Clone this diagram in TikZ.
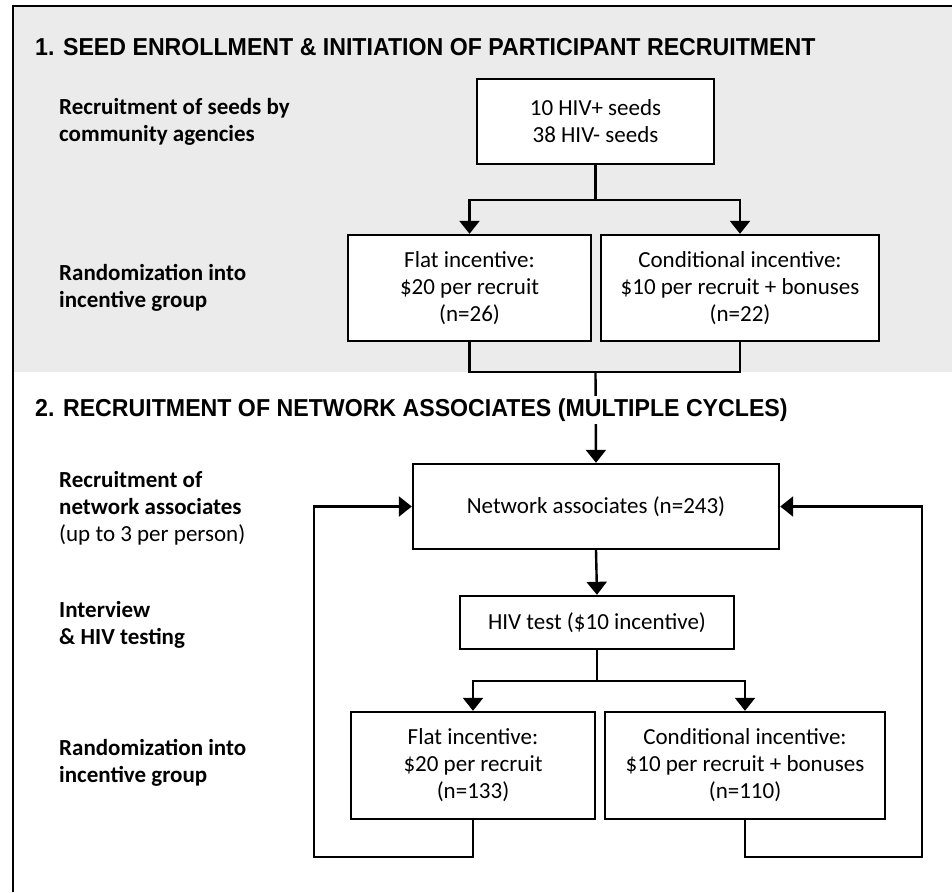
\documentclass[tikz,border=0pt]{standalone}
\usepackage{xcolor}
\usepackage{fontspec}
\setmainfont{Carlito}
\newfontfamily\headfont[FakeStretch=0.945]{Liberation Sans}
\usetikzlibrary{arrows.meta}
\definecolor{panelgray}{HTML}{EBEBEB}

\begin{document}
\begin{tikzpicture}[x=1pt, y=-1pt,
    box/.style={draw, line width=2.4pt, fill=white, align=center, inner sep=0pt,
        font=\fontsize{23}{27}\selectfont},
    rowlabel/.style={anchor=west, align=left, inner sep=0pt,
        font=\fontsize{23}{27}\selectfont},
    heading/.style={anchor=west, inner xsep=0pt, inner ysep=3pt,
        font=\headfont\bfseries\fontsize{24.5}{28}\selectfont},
    link/.style={line width=2.4pt},
    flow/.style={line width=2.4pt, -{Triangle[width=20pt,length=13pt]}}]
    \useasboundingbox (0, 0) rectangle (952, 892);

    % panels
    \fill[panelgray](14, 7) rectangle (952, 372);
    \draw[line width=2.4pt](13, 892) -- (13, 6) -- (952, 6);

    % part 1
    \node[heading] (titleone) at (35, 47) {1. SEED ENROLLMENT \& INITIATION OF PARTICIPANT RECRUITMENT};

    \node[rowlabel, font=\bfseries\fontsize{23}{27}\selectfont] (seedlabel) at (59, 121.5) {Recruitment of seeds by\\community agencies};
    \node[rowlabel, font=\bfseries\fontsize{23}{27}\selectfont] (randlabelone) at (59, 288) {Randomization into\\incentive group};

    \node[box, minimum width=237pt, minimum height=85pt] (seeds) at (595.5, 121.5) {10 HIV+ seeds\\38 HIV- seeds};
    \node[box, minimum width=243pt, minimum height=106pt] (flatone) at (469.5, 288) {Flat incentive:\\\$20 per recruit\\(n=26)};
    \node[box, minimum width=278pt, minimum height=106pt] (condone) at (740, 288) {Conditional incentive:\\\$10 per recruit + bonuses\\(n=22)};

    \coordinate (splitone) at (595.5, 200);
    \coordinate (mergeone) at (595.5, 372);

    \draw[link] (seeds.south) -- (splitone);
    \draw[flow] (splitone) -| (flatone.north);
    \draw[flow] (splitone) -| (condone.north);
    \draw[link] (flatone.south) |- (mergeone) -| (condone.south);

    % part 2
    \node[box, minimum width=366pt, minimum height=85pt] (assoc) at (596, 506.5) {Network associates (n=243)};
    \node[box, minimum width=274pt, minimum height=53pt] (hivtest) at (597, 622.5) {HIV test (\$10 incentive)};
    \node[box, minimum width=244pt, minimum height=107pt] (flattwo) at (473, 765.5) {Flat incentive:\\\$20 per recruit\\(n=133)};
    \node[box, minimum width=280pt, minimum height=107pt] (condtwo) at (745, 765.5) {Conditional incentive:\\\$10 per recruit + bonuses\\(n=110)};

    \draw[flow] (mergeone) -- (assoc.north);
    \node[heading, fill=white] (titletwo) at (35, 410) {2. RECRUITMENT OF NETWORK ASSOCIATES (MULTIPLE CYCLES)};

    \node[rowlabel] (assoclabel) at (59, 508) {\textbf{Recruitment of}\\\textbf{network associates}\\(up to 3 per person)};
    \node[rowlabel, font=\bfseries\fontsize{23}{27}\selectfont] (testlabel) at (59, 625) {Interview\\\& HIV testing};
    \node[rowlabel, font=\bfseries\fontsize{23}{27}\selectfont] (randlabeltwo) at (59, 763) {Randomization into\\incentive group};

    \coordinate (splittwo) at (597, 681);
    \coordinate (loopleft) at (314, 857);
    \coordinate (loopright) at (922, 857);

    \draw[flow] (assoc.south) -- (hivtest.north);
    \draw[link] (hivtest.south) -- (splittwo);
    \draw[flow] (splittwo) -| (flattwo.north);
    \draw[flow] (splittwo) -| (condtwo.north);

    % cycles back to the associates
    \draw[flow] (flattwo.south) |- (loopleft) |- (assoc.west);
    \draw[flow] (condtwo.south) |- (loopright) |- (assoc.east);
\end{tikzpicture}
\end{document}
